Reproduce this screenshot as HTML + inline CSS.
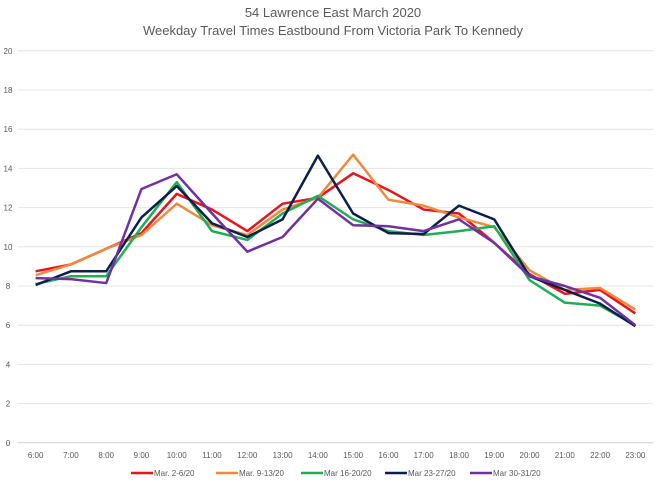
<!DOCTYPE html>
<html><head><meta charset="utf-8"><style>
body{margin:0;background:#fff;font-family:"Liberation Sans",sans-serif}
</style></head><body>
<svg width="660" height="487" viewBox="0 0 660 487" xmlns="http://www.w3.org/2000/svg">
<text x="333" y="17" text-anchor="middle" font-size="13" fill="#595959">54 Lawrence East March 2020</text>
<text x="333" y="35" text-anchor="middle" font-size="13" fill="#595959">Weekday Travel Times Eastbound From Victoria Park To Kennedy</text>
<g id="grid"></g><g id="xt"></g><g id="lines"></g><g id="legend"></g>
</svg>
<script>
const categories=["6:00","7:00","8:00","9:00","10:00","11:00","12:00","13:00","14:00","15:00","16:00","17:00","18:00","19:00","20:00","21:00","22:00","23:00"];
const yTicks=[0,2,4,6,8,10,12,14,16,18,20];
const seriesNames=["Mar. 2-6/20","Mar. 9-13/20","Mar 16-20/20","Mar 23-27/20","Mar 30-31/20"];
const seriesColors=["#e8141b","#ed8a3f","#1fae55","#0b1f4d","#7131a0"];
const s1=[8.75,9.1,9.9,10.7,12.7,11.9,10.8,12.2,12.5,13.75,12.9,11.9,11.7,10.2,8.6,7.6,7.8,6.6];
const s2=[8.55,9.1,9.9,10.6,12.2,11.1,10.6,11.9,12.5,14.7,12.4,12.1,11.5,11.0,8.8,7.8,7.9,6.8];
const s3=[8.1,8.5,8.5,11.0,13.3,10.8,10.35,11.7,12.6,11.4,10.8,10.6,10.8,11.05,8.3,7.15,7.0,6.0];
const s4=[8.05,8.75,8.75,11.5,13.1,11.2,10.5,11.4,14.65,11.7,10.7,10.65,12.1,11.4,8.5,7.8,7.1,5.95];
const s5=[8.4,8.35,8.15,12.95,13.7,11.7,9.75,10.5,12.45,11.1,11.05,10.8,11.4,10.2,8.5,8.0,7.4,6.0];
const series=[s1,s2,s3,s4,s5];
const NS="http://www.w3.org/2000/svg";
const L=18,R=653,T=50.8,B=442.8;
const bw=(R-L)/categories.length;
const x=i=>L+bw*(i+0.5);
const y=v=>B-(v/20)*(B-T);
function mk(t,a,p){const e=document.createElementNS(NS,t);for(const k in a)e.setAttribute(k,a[k]);p.appendChild(e);return e;}
const g=document.getElementById('grid');
yTicks.forEach(v=>{
 const l=mk('line',{x1:L,x2:R,y1:y(v),y2:y(v),stroke:v===0?'#d0d0d0':'#e4e4e4','stroke-width':1},g);
 
 
 const t=mk('text',{x:8,y:y(v)+3,'text-anchor':'middle','font-size':8,fill:'#595959'},g);t.textContent=v;
 
 
});
const xt=document.getElementById('xt');
categories.forEach((c,i)=>{
 const t=mk('text',{x:x(i),y:458,'text-anchor':'middle','font-size':8,fill:'#595959'},xt);t.textContent=c;
 
 
});
const lg=document.getElementById('lines');
series.forEach((s,k)=>{
 const p=mk('polyline',{points:s.map((v,i)=>x(i)+','+y(v)).join(' '),fill:'none',stroke:seriesColors[k],'stroke-width':2.5,'stroke-linejoin':'round'},lg);
 
 
});
const leg=document.getElementById('legend');
const lx=[131,216,301,385,470];
seriesNames.forEach((n,k)=>{
 const e=mk('line',{x1:lx[k],x2:lx[k]+22,y1:473,y2:473,stroke:seriesColors[k],'stroke-width':2.5},leg);
 
 
 const t=mk('text',{x:lx[k]+23,y:476,'font-size':8,fill:'#595959'},leg);t.textContent=n;
 
 
});
</script>
</body></html>
